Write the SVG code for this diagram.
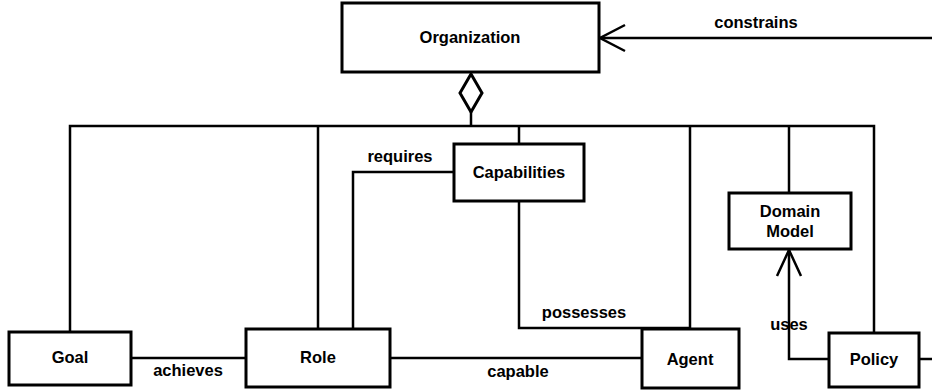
<svg xmlns="http://www.w3.org/2000/svg" width="932" height="392" viewBox="0 0 932 392">
<style>
.box{fill:#fff;stroke:#000;stroke-width:3}
.ln{fill:none;stroke:#000;stroke-width:2.5}
text{font-family:"Liberation Sans",Arial,sans-serif;font-weight:bold;font-size:16.5px;text-anchor:middle;fill:#000}
</style>
<g id="connectors">
<polyline class="ln" points="70,332 70,126 874,126 874,333"/>
<line class="ln" x1="318" y1="126" x2="318" y2="329"/>
<line class="ln" x1="519" y1="126" x2="519" y2="144"/>
<line class="ln" x1="690" y1="126" x2="690" y2="329"/>
<line class="ln" x1="789" y1="126" x2="789" y2="193"/>
<line class="ln" x1="471" y1="112" x2="471" y2="126"/>
<polygon points="471,74 482,93 471,112 460,93" fill="#fff" stroke="#000" stroke-width="3"/>
<polyline class="ln" points="353,329 353,172 454,172"/>
<polyline class="ln" points="519,201 519,328 690,328"/>
<line class="ln" x1="131" y1="358" x2="246" y2="358"/>
<line class="ln" x1="390" y1="358" x2="642" y2="358"/>
<polyline class="ln" points="829,359 789,359 789,250"/>
<polyline class="ln" points="777,276 789,250 801,276"/>
<line class="ln" x1="919" y1="359" x2="932" y2="359"/>
<line class="ln" x1="600" y1="38" x2="932" y2="38"/>
<polyline class="ln" points="625,25 600,38 625,51"/>
<text x="756" y="28">constrains</text>
<text x="400" y="162">requires</text>
<text x="584" y="318">possesses</text>
<text x="789" y="330">uses</text>
<text x="188" y="376">achieves</text>
<text x="518" y="377">capable</text>
</g>
<g id="organization">
<rect class="box" x="342" y="3" width="257" height="69"/>
<text x="470" y="43">Organization</text>
</g>
<g id="capabilities">
<rect class="box" x="454" y="144" width="130" height="57"/>
<text x="519" y="178">Capabilities</text>
</g>
<g id="domain-model">
<rect class="box" x="729" y="193" width="122" height="56"/>
<text x="790" y="217">Domain</text>
<text x="790" y="237">Model</text>
</g>
<g id="goal">
<rect class="box" x="9" y="332" width="122" height="53"/>
<text x="70" y="363">Goal</text>
</g>
<g id="role">
<rect class="box" x="246" y="329" width="144" height="58"/>
<text x="318" y="363">Role</text>
</g>
<g id="agent">
<rect class="box" x="642" y="329" width="97" height="59"/>
<text x="690" y="365">Agent</text>
</g>
<g id="policy">
<rect class="box" x="829" y="333" width="90" height="54"/>
<text x="874" y="365">Policy</text>
</g>
</svg>
